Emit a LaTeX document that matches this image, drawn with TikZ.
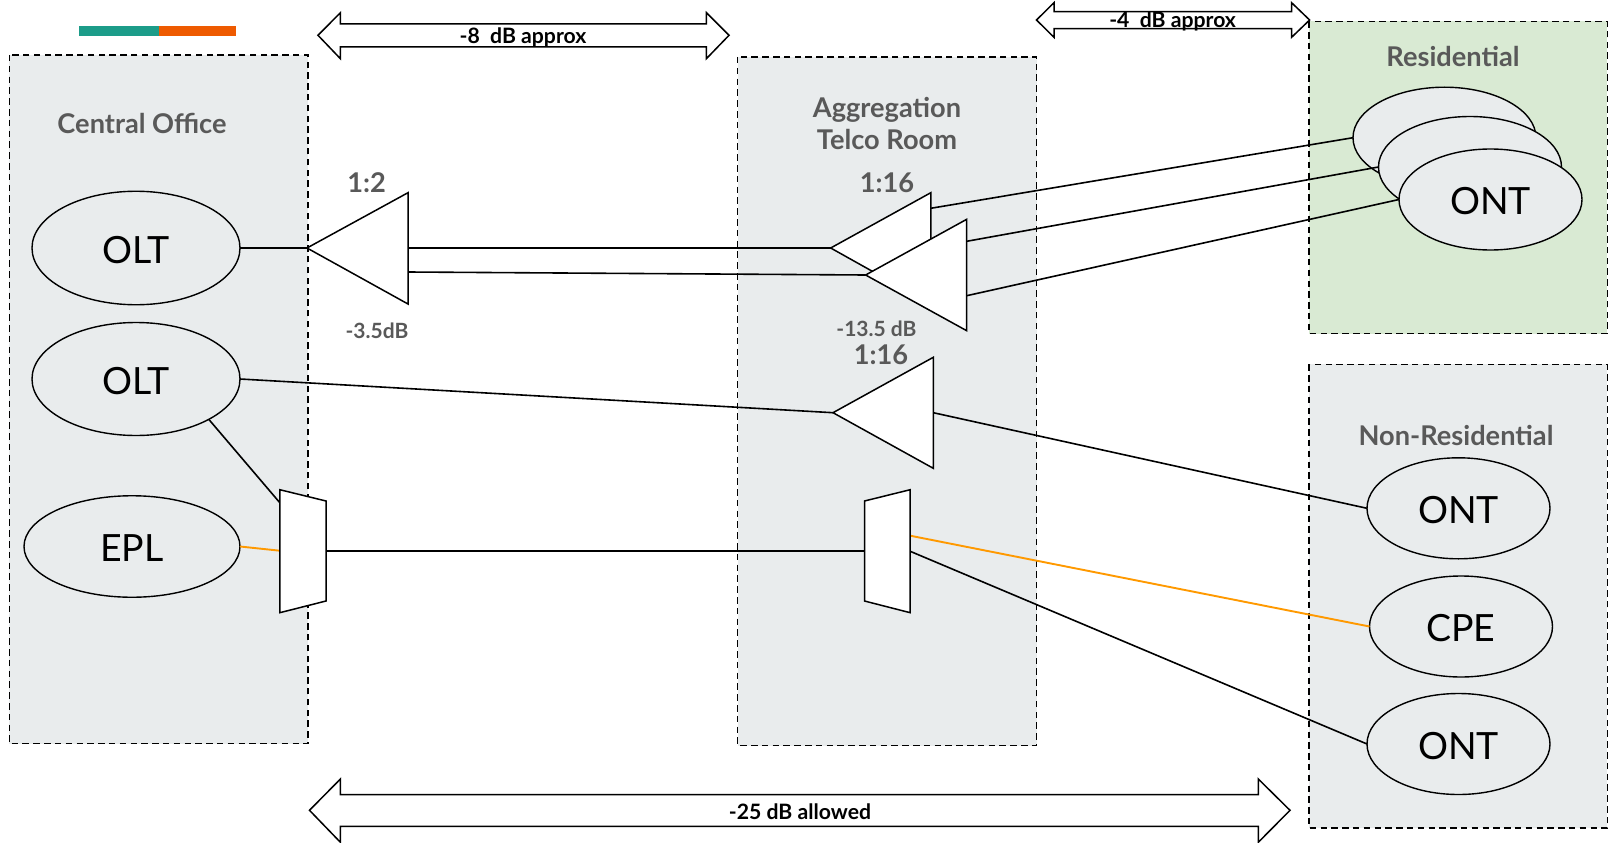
\documentclass[tikz,border=0pt]{standalone}
\usepackage{fontspec}
\setmainfont{Lato}
\usetikzlibrary{shapes.geometric}
\definecolor{boxgrey}{HTML}{E9ECED}
\definecolor{boxgreen}{HTML}{D9EAD3}
\definecolor{headgrey}{HTML}{595959}
\definecolor{fiberorange}{HTML}{FF9900}
\definecolor{barteal}{HTML}{1C9C89}
\definecolor{barorange}{HTML}{EE5A00}
\newcommand{\ovaltext}[1]{\raisebox{-1.8pt}[\height][\depth]{#1}}
\tikzset{
  zonebox/.style={draw=black,fill=boxgrey,line width=1.3pt,dash pattern=on 6.5pt off 4.3pt},
  oval/.style={draw=black,fill=boxgrey,ellipse,line width=1.4pt,inner sep=0pt,outer sep=0pt,
     font=\fontsize{37.5}{38}\selectfont,text=black},
  ovalwide/.style={oval,minimum width=183pt,minimum height=101pt},
  fiber/.style={draw=black,line width=1.6pt},
  ofiber/.style={draw=fiberorange,line width=1.9pt},
  device/.style={draw=black,fill=white,line width=1.5pt,line join=miter},
  dbl/.style={draw=black,fill=white,line width=1.5pt,line join=miter},
  head/.style={font=\fontsize{27.2}{32}\selectfont\bfseries,text=headgrey,align=center,inner sep=0pt},
  loss/.style={font=\fontsize{21}{24}\selectfont\bfseries,text=headgrey,inner sep=0pt},
  span/.style={font=\fontsize{21.2}{24}\selectfont\bfseries,text=black,inner sep=0pt},
}
\begin{document}
\begin{tikzpicture}[x=1pt,y=-1pt]
\useasboundingbox (0,0) rectangle (1610,843);
% legend bar
\fill[barteal] (79,26) rectangle (159,36);
\fill[barorange] (159,26) rectangle (236,36);
% zones
\path[zonebox] (9.2,55) rectangle (308,743.7);
\path[zonebox] (737.7,57) rectangle (1036.5,745.7);
\path[zonebox,fill=boxgreen] (1309,21.3) rectangle (1607.4,333.7);
\path[zonebox] (1309,364.3) rectangle (1607.4,828);
% span arrows
\path[dbl] (318,35.3) -- (340.4,12.7) -- (340.4,24) -- (706.4,24) -- (706.4,12.7) -- (729,35.3)
  -- (706.4,58.7) -- (706.4,47) -- (340.4,47) -- (340.4,58.7) -- cycle;
\path[dbl] (1036.5,20) -- (1054,2.7) -- (1054,11.7) -- (1291.6,11.7) -- (1291.6,2.7) -- (1309.6,20)
  -- (1291.6,37.3) -- (1291.6,28.7) -- (1054,28.7) -- (1054,37.3) -- cycle;
\path[dbl] (309.5,810.3) -- (340.4,779) -- (340.4,794.7) -- (1258.3,794.7) -- (1258.3,779) -- (1290,810.3)
  -- (1258.3,842.3) -- (1258.3,826.3) -- (340.4,826.3) -- (340.4,842.3) -- cycle;
% end devices
\node[oval,minimum width=208pt,minimum height=113.5pt] (olta) at (136,248) {\ovaltext{OLT}};
\node[oval,minimum width=208pt,minimum height=113pt] (oltb) at (136,379) {\ovaltext{OLT}};
\node[oval,minimum width=216pt,minimum height=101.5pt] (epl) at (132,546.5) {\ovaltext{EPL}};
\node[ovalwide] (onta) at (1444.5,137.7) {};
\node[ovalwide] (ontb) at (1470,167) {};
\node[ovalwide] (ontc) at (1490.5,199.5) {\ovaltext{ONT}};
\node[ovalwide] (ontd) at (1458.5,508.3) {\ovaltext{ONT}};
\node[ovalwide] (cpe) at (1461,626.5) {\ovaltext{CPE}};
\node[ovalwide] (onte) at (1458.5,744) {\ovaltext{ONT}};
% ports
\coordinate (sa tip) at (307,248);
\coordinate (sa out1) at (408,248);
\coordinate (sa out2) at (408,272);
\coordinate (sb tip) at (830.7,248);
\coordinate (sb out) at (930.8,208.3);
\coordinate (sc tip) at (865.6,275);
\coordinate (sc out1) at (966.7,241.3);
\coordinate (sc out2) at (966.7,295.7);
\coordinate (sd tip) at (833,412.7);
\coordinate (sd out) at (933.3,412.7);
\coordinate (ma up) at (279.8,502.7);
\coordinate (ma in) at (279.8,550.7);
\coordinate (ma out) at (326,550.7);
\coordinate (mb in) at (864.5,550.7);
\coordinate (mb o1) at (910.2,535.7);
\coordinate (mb o2) at (910.2,551.3);
% connectors
\draw[fiber] (olta.east) -- (sa tip);
\draw[fiber] (sa out1) -- (sb tip);
\draw[fiber] (sa out2) -- (sc tip);
\draw[fiber] (sb out) -- (onta.west);
\draw[fiber] (sc out1) -- (ontb.west);
\draw[fiber] (sc out2) -- (ontc.west);
\draw[fiber] (oltb.east) -- (sd tip);
\draw[fiber] (sd out) -- (ontd.west);
\draw[fiber] (oltb.-29) -- (ma up);
\draw[ofiber] (epl.east) -- (ma in);
\draw[fiber] (ma out) -- (mb in);
\draw[ofiber] (mb o1) -- (cpe.west);
\draw[fiber] (mb o2) -- (onte.west);
% splitters and multiplexers
\path[device] (sa tip) -- (408,192.7) -- (408,304) -- cycle;
\path[device] (sb tip) -- (930.8,192.7) -- (930.8,304) -- cycle;
\path[device] (sc tip) -- (966.7,219.3) -- (966.7,330.7) -- cycle;
\path[device] (sd tip) -- (933.3,357.3) -- (933.3,468.3) -- cycle;
\path[device] (279.8,489.7) -- (326,501) -- (326,601) -- (279.8,612.7) -- cycle;
\path[device] (864.5,501) -- (910.2,489.7) -- (910.2,612.7) -- (864.5,601) -- cycle;
% labels
\node[head] (lco) at (142,123.2) {Central Office};
\node[head] (lag) at (887,123) {Aggregation\\Telco Room};
\node[head] (lre) at (1453,56.7) {Residential};
\node[head] (lnr) at (1456,435) {Non-Residential};
\node[head] (r12) at (366.6,182.7) {1:2};
\node[head] (r16a) at (887,182.7) {1:16};
\node[head] (r16b) at (881,355) {1:16};
\node[loss] (l35) at (377,331) {-3.5dB};
\node[loss] (l135) at (876.5,328.3) {-13.5 dB};
\node[span] (d8) at (523,37.6) {-8 \ dB approx};
\node[span] (d4) at (1172.6,21.5) {-4 \ dB approx};
\node[span] (d25) at (800,811.5) {-25 dB allowed};
\end{tikzpicture}
\end{document}
